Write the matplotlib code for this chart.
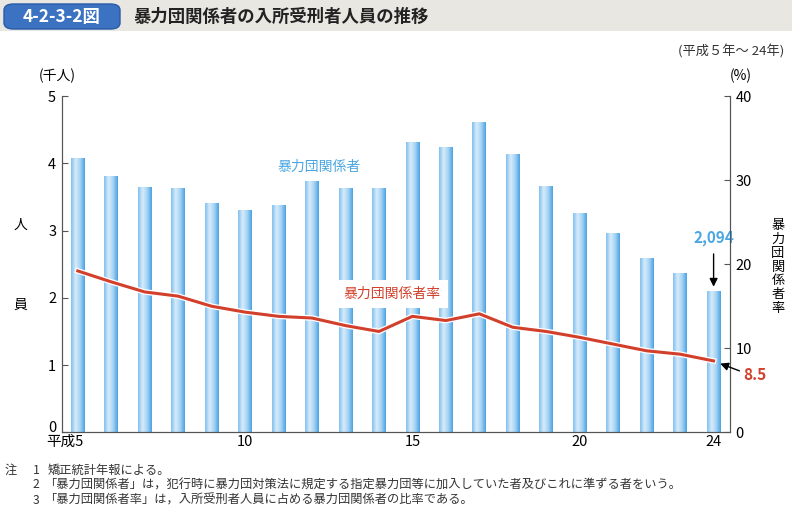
import numpy as np
import matplotlib
matplotlib.use("Agg")
import matplotlib.pyplot as plt
import matplotlib.patheffects as pe
import matplotlib.transforms as mtransforms
from matplotlib.colors import LinearSegmentedColormap
from matplotlib.patches import FancyBboxPatch, Rectangle

plt.rcParams['font.family'] = ['Noto Sans CJK JP', 'DejaVu Sans']

# data: 平成5年～24年
years = list(range(5, 25))
members = [4.06, 3.80, 3.63, 3.62, 3.40, 3.29, 3.36, 3.73, 3.62, 3.62,
           4.30, 4.23, 4.60, 4.12, 3.65, 3.25, 2.95, 2.58, 2.35, 2.094]
rate = [19.2, 17.9, 16.7, 16.2, 15.0, 14.3, 13.8, 13.6, 12.7, 12.0,
        13.8, 13.3, 14.1, 12.5, 12.0, 11.3, 10.5, 9.7, 9.3, 8.5]
tick_years = [5, 10, 15, 20, 24]

bar_cmap = LinearSegmentedColormap.from_list(
    "bar", ["#80c0ee", "#d8ecfa", "#a4d2f3", "#4aa2e3"], N=64)
blue_txt = "#4aa6e2"
red = "#d2402b"

fig = plt.figure(figsize=(7.92, 5.13), dpi=100)

# header band
fig.patches.append(Rectangle((0, 1 - 31 / 513), 1, 31 / 513, transform=fig.transFigure,
                             facecolor="#e8e7e1", edgecolor="none", zorder=0))
fig.patches.append(FancyBboxPatch((4 / 792, 1 - 29 / 513), 116 / 792, 25 / 513,
                                  boxstyle="round,pad=0,rounding_size=0.012",
                                  transform=fig.transFigure, facecolor="#3c72c2",
                                  edgecolor="#2a5aa8", linewidth=1, zorder=1))
fig.text(62 / 792, 1 - 16.5 / 513, "4-2-3-2図", color="white", fontsize=12.5,
         fontweight="bold", ha="center", va="center")
fig.text(133 / 792, 1 - 16.5 / 513, "暴力団関係者の入所受刑者人員の推移", color="#222222",
         fontsize=12.5, fontweight="bold", ha="left", va="center")
fig.text(784 / 792, 1 - 52 / 513, "(平成５年～ 24年)", fontsize=9.5, ha="right",
         va="center", color="#333333")

ax = fig.add_axes([61.7 / 792, 1 - 432.4 / 513, (730 - 61.7) / 792, (432.4 - 96) / 513])
x = np.arange(len(years))
w = 0.41
ax.set_xlim(-0.48, len(years) - 0.51)
ax.set_ylim(0, 5)
grad = np.linspace(0, 1, 64).reshape(1, -1)
for xi, h in zip(x, members):
    ax.imshow(grad, cmap=bar_cmap, aspect="auto", extent=(xi - w / 2, xi + w / 2, 0, h),
              zorder=1, interpolation="bilinear")

ax2 = ax.twinx()
ax2.set_ylim(0, 40)
ax2.plot(x, rate, color=red, lw=2.2, zorder=3, solid_joinstyle="round",
         path_effects=[pe.Stroke(linewidth=4, foreground="white"), pe.Normal()])

for a in (ax, ax2):
    a.spines["top"].set_visible(False)
    a.spines["left"].set_color("#555555")
    a.spines["right"].set_color("#555555")
    a.spines["bottom"].set_color("#555555")
    a.tick_params(direction="in", length=4, width=0.8, color="#555555",
                  labelsize=10.5, pad=4)
ax.set_yticks(range(0, 6))
ax2.set_yticks(range(0, 41, 10))
ax.set_xticks([years.index(t) for t in tick_years])
labels = ax.set_xticklabels(["平成" + str(tick_years[0])] + [str(t) for t in tick_years[1:]])
ax.tick_params(axis="x", length=0, pad=2)
labels[0].set_ha("right")
labels[0].set_transform(labels[0].get_transform() +
                        mtransforms.ScaledTranslation(4 / 72, 0, fig.dpi_scale_trans))
fig.canvas.draw()
y0 = ax.get_yticklabels()[0]
y0.set_transform(y0.get_transform() +
                 mtransforms.ScaledTranslation(0, 4.5 / 72, fig.dpi_scale_trans))

# labels
fig.text(57 / 792, 1 - 76 / 513, "(千人)", fontsize=10, ha="center", va="center")
fig.text(741 / 792, 1 - 76 / 513, "(%)", fontsize=10, ha="center", va="center")
fig.text(20 / 792, 1 - 225 / 513, "人", fontsize=10, ha="center", va="center")
fig.text(20 / 792, 1 - 305 / 513, "員", fontsize=10, ha="center", va="center")
fig.text(778 / 792, 1 - 267 / 513, "\n".join("暴力団関係者率"), fontsize=9.5,
         ha="center", va="center", linespacing=1.08)

ax.text(7.2, 3.95, "暴力団関係者", color=blue_txt, fontsize=10, ha="center", va="center")
ax2.text(9.4, 16.5, "暴力団関係者率", color=red, fontsize=10, ha="center", va="center",
         zorder=4, bbox=dict(facecolor="white", edgecolor="none", pad=5))

# end annotations
ax.annotate("", xy=(x[-1], members[-1] + 0.03), xytext=(x[-1], members[-1] + 0.6),
            arrowprops=dict(arrowstyle="-|>", color="black", lw=1, mutation_scale=12))
ax.text(x[-1], members[-1] + 0.8, "2,094", color=blue_txt, fontsize=11,
        fontweight="bold", ha="center", va="center")
ax2.annotate("", xy=(x[-1] + 0.12, rate[-1] - 0.2), xytext=(x[-1] + 0.85, rate[-1] - 1.3),
             arrowprops=dict(arrowstyle="-|>", color="black", lw=1, mutation_scale=12),
             annotation_clip=False)
ax2.text(x[-1] + 0.9, rate[-1] - 1.7, "8.5", color=red, fontsize=11, fontweight="bold",
         ha="left", va="center", clip_on=False)

# notes
notes = [("注", "1", "矯正統計年報による。"),
         ("", "2", "「暴力団関係者」は，犯行時に暴力団対策法に規定する指定暴力団等に加入していた者及びこれに準ずる者をいう。"),
         ("", "3", "「暴力団関係者率」は，入所受刑者人員に占める暴力団関係者の比率である。")]
for i, (a, b, c) in enumerate(notes):
    yy = 1 - (470 + i * 15) / 513
    fig.text(5 / 792, yy, a, fontsize=8.8, va="center", color="#333333")
    fig.text(33 / 792, yy, b, fontsize=8.8, va="center", color="#333333")
    fig.text(48 / 792 if i == 0 else 44 / 792, yy, c, fontsize=8.8, va="center",
             color="#333333")

fig.savefig("out.png", dpi=100)
